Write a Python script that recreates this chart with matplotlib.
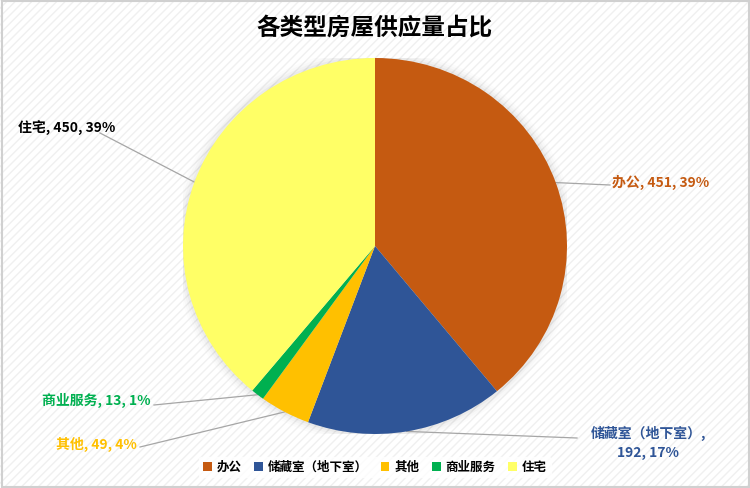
import numpy as np
import matplotlib.pyplot as plt
from matplotlib.patches import Rectangle

plt.rcParams['font.family'] = ['Noto Sans CJK SC', 'DejaVu Sans']

# data
categories = ['办公', '储藏室（地下室）', '其他', '商业服务', '住宅']
values = [451, 192, 49, 13, 450]
colors = ['#C55A11', '#2F5597', '#FFC000', '#00B050', '#FFFF66']
label_colors = ['#C55A11', '#2F5597', '#FFC000', '#00B050', '#000000']
title = '各类型房屋供应量占比'

W, H = 750, 488
fig = plt.figure(figsize=(W / 100, H / 100), dpi=100)
fig.patch.set_facecolor('white')

# faint diagonal stripes + border
bg = Rectangle((0, 0), 1, 1, transform=fig.transFigure, facecolor='white',
               edgecolor='#F0F0F0', hatch='////', linewidth=0, zorder=-10)
fig.patches.append(bg)
border = Rectangle((0.002, 0.003), 0.996, 0.994, transform=fig.transFigure,
                   facecolor='none', edgecolor='#D0D0D0', linewidth=1.5, zorder=10)
fig.patches.append(border)

# pie axes (slightly elliptical like the original)
cx, cy, rx, ry = 375, 246, 192, 188
ax = fig.add_axes([(cx - rx) / W, (H - cy - ry) / H, 2 * rx / W, 2 * ry / H])

wedges, _ = ax.pie(values, colors=colors, startangle=90, counterclock=False,
                   radius=1, wedgeprops=dict(linewidth=0))
for w in wedges:
    w.set_zorder(2)
ax.set_aspect('auto')
ax.set_xlim(-1, 1)
ax.set_ylim(-1, 1)
ax.axis('off')

# soft shadow
for i, a in enumerate([0.03, 0.022, 0.015, 0.01]):
    circ = plt.Circle((0, 0), 1.0 + 0.012 * (i + 1), color='black', alpha=a,
                      linewidth=0, zorder=0)
    ax.add_patch(circ)

total = sum(values)
pcts = [round(v / total * 100) for v in values]
texts = [f'{c}, {v}, {p}%' for c, v, p in zip(categories, values, pcts)]
texts[1] = f'{categories[1]},\n{values[1]}, {pcts[1]}%'

# label layout (pixel positions), text anchor, line end
layout = [
    dict(tx=612, ty=182, ha='left', lx=610, ly=185),
    dict(tx=706, ty=443, ha='right', lx=577, ly=438),
    dict(tx=137, ty=444, ha='right', lx=140, ly=447),
    dict(tx=151, ty=400, ha='right', lx=154, ly=405),
    dict(tx=18, ty=127, ha='left', lx=100, ly=133),
]


def px_to_data(x, y):
    return ((x - cx) / rx, (cy - y) / ry)


for w, txt, col, lay in zip(wedges, texts, label_colors, layout):
    mid = np.deg2rad((w.theta1 + w.theta2) / 2)
    x0, y0 = np.cos(mid), np.sin(mid)
    lx, ly = px_to_data(lay['lx'], lay['ly'])
    ax.plot([x0, lx], [y0, ly], color='#A6A6A6', lw=0.9, zorder=1, clip_on=False)
    fig.text(lay['tx'] / W, 1 - lay['ty'] / H, txt, color=col, fontsize=10,
             fontweight='bold', ha=lay['ha'], va='center', linespacing=1.4,
             multialignment='center')

fig.text(0.5, 1 - 28 / H, title, ha='center', va='center', fontsize=17,
         fontweight='bold', color='black')

handles = [Rectangle((0, 0), 1, 1, facecolor=c) for c in colors]
fig.legend(handles, categories, loc='center', bbox_to_anchor=(0.5, 1 - 467 / H),
           ncol=5, frameon=True, facecolor='white', edgecolor='white',
           handlelength=0.7, handleheight=0.7, handletextpad=0.4,
           columnspacing=1.0, borderpad=0.3, prop=dict(weight='bold', size=9))

fig.savefig('out.png', dpi=100)
